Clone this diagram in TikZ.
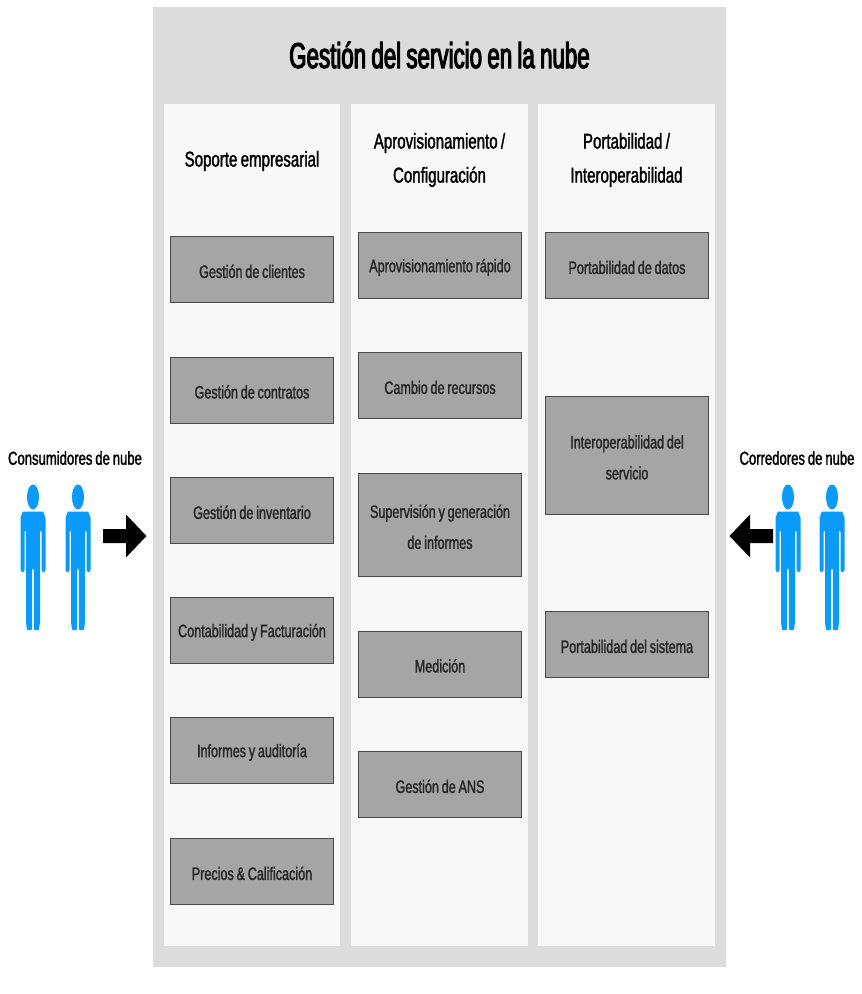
\documentclass[tikz,border=0pt]{standalone}
\usepackage{fontspec}
\setmainfont[FakeStretch=0.7,FakeBold=1.5,WordSpace=0.8]{Liberation Sans}
\newfontfamily\titlefont[FakeStretch=0.62,FakeBold=3,WordSpace=0.85]{Liberation Sans}
\definecolor{panelgray}{HTML}{DCDCDC}
\definecolor{colwhite}{HTML}{F8F8F8}
\definecolor{boxgray}{HTML}{A5A5A5}
\definecolor{boxline}{HTML}{4A4A4A}
\definecolor{personblue}{HTML}{0A9BFA}
\tikzset{
  x=1pt,y=-1pt,
  panel/.style={fill=panelgray,draw=none,inner sep=0,outer sep=0},
  lane/.style={fill=colwhite,draw=none,inner sep=0,outer sep=0},
  itembox/.style={fill=boxgray,draw=boxline,line width=1pt,minimum width=163pt,inner sep=1pt,align=flush center,text width=160pt,font=\fontsize{18}{31}\selectfont,text=black!85,execute at begin node={\rule{0pt}{17pt}}},
  head/.style={align=flush center,font=\fontsize{21.5}{34}\selectfont,text=black},
  side/.style={font=\fontsize{18.7}{22}\selectfont,text=black},
  personshape/.style={fill=personblue,draw=none},
  blockarrow/.style={fill=black,draw=none},
}
\newcommand{\personfig}[1]{%
  \begin{scope}[shift={(#1,0)}]
    \fill[personblue] (0,497) ellipse [x radius=6,y radius=12.5];
    \path[personshape,rounded corners=2pt]
      (-12.5,572) -- (-12.5,516) to[out=-90,in=180] (-8,511.5) -- (8,511.5)
      to[out=0,in=-90] (12.5,516) -- (12.5,572) -- (8.5,572) -- (8.5,530) -- (7,530)
      -- (7,623) to[out=90,in=0] (3.5,630) to[out=180,in=90] (0.8,623) -- (0.8,568) -- (-0.8,568)
      -- (-0.8,623) to[out=90,in=0] (-3.5,630) to[out=180,in=90] (-7,623) -- (-7,530) -- (-8.5,530)
      -- (-8.5,572) -- cycle;
  \end{scope}}
\begin{document}
\begin{tikzpicture}
\useasboundingbox (0,0) rectangle (862,994);
\fill[white] (0,0) rectangle (862,994);
\path[panel] (153,7) rectangle (726,967);
\path[lane] (164,104) rectangle (340,946);
\path[lane] (351,104) rectangle (528,946);
\path[lane] (538,104) rectangle (715,946);

\node[font=\fontsize{36}{40}\titlefont,text=black] (title) at (439.5,55) {Gestión del servicio en la nube};

\node[head] (h1) at (252,161) {Soporte empresarial};
\node[head] (h2) at (439.5,160) {Aprovisionamiento /\\Configuración};
\node[head] (h3) at (626.5,160) {Portabilidad /\\Interoperabilidad};

\node[itembox,minimum height=66pt] (a1) at (252,269.5) {Gestión de clientes};
\node[itembox,minimum height=66pt] (a2) at (252,390) {Gestión de contratos};
\node[itembox,minimum height=66pt] (a3) at (252,510.5) {Gestión de inventario};
\node[itembox,minimum height=66pt] (a4) at (252,630.5) {Contabilidad y Facturación};
\node[itembox,minimum height=66pt] (a5) at (252,750.5) {Informes y auditoría};
\node[itembox,minimum height=66pt] (a6) at (252,871.5) {Precios \& Calificación};

\node[itembox,minimum height=66pt] (b1) at (440,265.5) {Aprovisionamiento rápido};
\node[itembox,minimum height=66pt] (b2) at (440,385.5) {Cambio de recursos};
\node[itembox,minimum height=103pt] (b3) at (440,525) {Supervisión y generación\\de informes};
\node[itembox,minimum height=66pt] (b4) at (440,664) {Medición};
\node[itembox,minimum height=66pt] (b5) at (440,784.5) {Gestión de ANS};

\node[itembox,minimum height=66pt] (c1) at (627,265.5) {Portabilidad de datos};
\node[itembox,minimum height=118pt] (c2) at (627,455.5) {Interoperabilidad del\\servicio};
\node[itembox,minimum height=66pt] (c3) at (627,644.5) {Portabilidad del sistema};

\node[side] (consumers) at (75,458) {Consumidores de nube};
\node[side] (brokers) at (797,458) {Corredores de nube};

\personfig{33}
\personfig{78}
\personfig{788}
\personfig{832}

\path[blockarrow] (103,529) -- (126,529) -- (126,514.5) -- (146.5,536) -- (126,557.5) -- (126,543) -- (103,543) -- cycle;
\path[blockarrow] (773,529) -- (750,529) -- (750,514.5) -- (729.5,536) -- (750,557.5) -- (750,543) -- (773,543) -- cycle;
\end{tikzpicture}
\end{document}
